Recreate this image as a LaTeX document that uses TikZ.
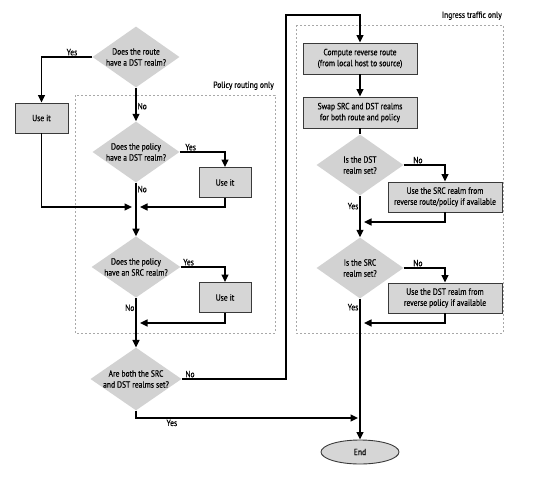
\documentclass[tikz,border=0pt]{standalone}
\usepackage{fontspec}
\setmainfont{PT Sans}[FakeStretch=0.84,FakeBold=0.4]
\usetikzlibrary{shapes.geometric,arrows.meta}
\definecolor{bfill}{HTML}{D6D6D6}
\definecolor{dfill}{HTML}{D2D2D2}
\definecolor{bord}{HTML}{3A3A3A}
\definecolor{grpc}{HTML}{A8A8A8}
\begin{document}
\begin{tikzpicture}[x=1pt,y=-1pt,
  font=\fontsize{9}{11}\selectfont,
  dec/.style={diamond, fill=dfill, inner sep=0pt, aspect=1.45, minimum width=87pt, minimum height=61pt, align=center},
  proc/.style={rectangle, draw=bord, fill=bfill, line width=0.9pt, align=center, minimum height=30pt, inner sep=2pt},
  ln/.style={line width=1.3pt},
  arr/.style={line width=1.3pt, -{Triangle[length=7.5pt,width=7pt]}},
  lab/.style={inner sep=1pt},
  grp/.style={draw=grpc, line width=0.9pt, dash pattern=on 2pt off 2pt}]
\useasboundingbox (0,0) rectangle (544,480);
% groups
\draw[grp] (75,95) rectangle (275,333);
\node[lab, anchor=south east] (gp) at (275,91) {Policy routing only};
\draw[grp] (296,25) rectangle (503,333);
\node[lab, anchor=south east] (gi) at (503,21) {Ingress traffic only};
% left column
\node[dec] (d1) at (136,57) {Does the route\\have a DST realm?};
\node[proc, minimum width=53pt] (u1) at (41.5,118) {Use it};
\node[dec] (d2) at (136,152) {Does the policy\\have a DST realm?};
\node[proc, minimum width=52pt] (u2) at (225,182.5) {Use it};
\node[dec] (d3) at (136,267) {Does the policy\\have an SRC realm?};
\node[proc, minimum width=52pt] (u3) at (225,297.5) {Use it};
\node[dec] (d4) at (136,379) {Are both the SRC\\and DST realms set?};
% right column
\node[proc, minimum width=114pt, minimum height=31pt] (c1) at (360,58.5) {Compute reverse route\\(from local host to source)};
\node[proc, minimum width=114pt, minimum height=31pt] (c2) at (360,112.5) {Swap SRC and DST realms\\for both route and policy};
\node[dec] (d5) at (360,165) {Is the DST\\realm set?};
\node[proc, minimum width=114pt] (s1) at (445,197) {Use the SRC realm from\\reverse route/policy if available};
\node[dec] (d6) at (360,268) {Is the SRC\\realm set?};
\node[proc, minimum width=114pt] (s2) at (445,298) {Use the DST realm from\\reverse policy if available};
\node[ellipse, draw=bord, fill=bfill, line width=0.9pt, minimum width=78pt, minimum height=24pt, inner sep=0pt] (e) at (360,452) {End};
% junction coordinates
\coordinate (j1) at (136,207);
\coordinate (j2) at (136,323);
\coordinate (j3) at (360,222);
\coordinate (j4) at (360,323);
\coordinate (j5) at (360,418);
\coordinate (t1) at (286,15);
% connectors left
\draw[arr] (d1.west) -| node[lab, above, pos=0.2] (ly1) {Yes} (u1.north);
\draw[arr] (d1.south) -- node[lab, right, pos=0.55] (ln1) {No} (d2.north);
\draw[arr] (d2.east) node[lab, above right, xshift=4pt] (ly2) {Yes} -| (u2.north);
\draw[arr, shorten >=4pt] (u1.south) |- (j1);
\draw[arr, shorten >=4pt] (u2.south) |- (j1);
\draw[arr] (d2.south) -- node[lab, right, pos=0.12] (ln2) {No} (d3.north);
\draw[arr] (d3.east) node[lab, above right, xshift=1pt] (ly3) {Yes} -| (u3.north);
\draw[arr, shorten >=4pt] (u3.south) |- (j2);
\draw[arr] (d3.south) -- node[lab, left, pos=0.2] (ln3) {No} (d4.north);
\draw[arr] (d4.east) node[lab, above right, xshift=2pt] (ln4) {No} -| (t1) -| (c1.north);
\draw[arr, shorten >=2pt] (d4.south) |- node[lab, below, pos=0.58] (ly4) {Yes} (j5);
% connectors right
\draw[arr] (c1.south) -- (c2.north);
\draw[ln] (c2.south) -- (d5.north);
\draw[arr] (d5.east) node[lab, above right, xshift=8pt] (ln5) {No} -| (s1.north);
\draw[arr, shorten >=4pt] (s1.south) |- (j3);
\draw[arr] (d5.south) -- node[lab, left, pos=0.25] (ly5) {Yes} (d6.north);
\draw[arr] (d6.east) node[lab, above right, xshift=8pt] (ln6) {No} -| (s2.north);
\draw[arr, shorten >=4pt] (s2.south) |- (j4);
\draw[arr] (d6.south) -- node[lab, left, pos=0.06] (ly6) {Yes} (e.north);
\end{tikzpicture}
\end{document}
